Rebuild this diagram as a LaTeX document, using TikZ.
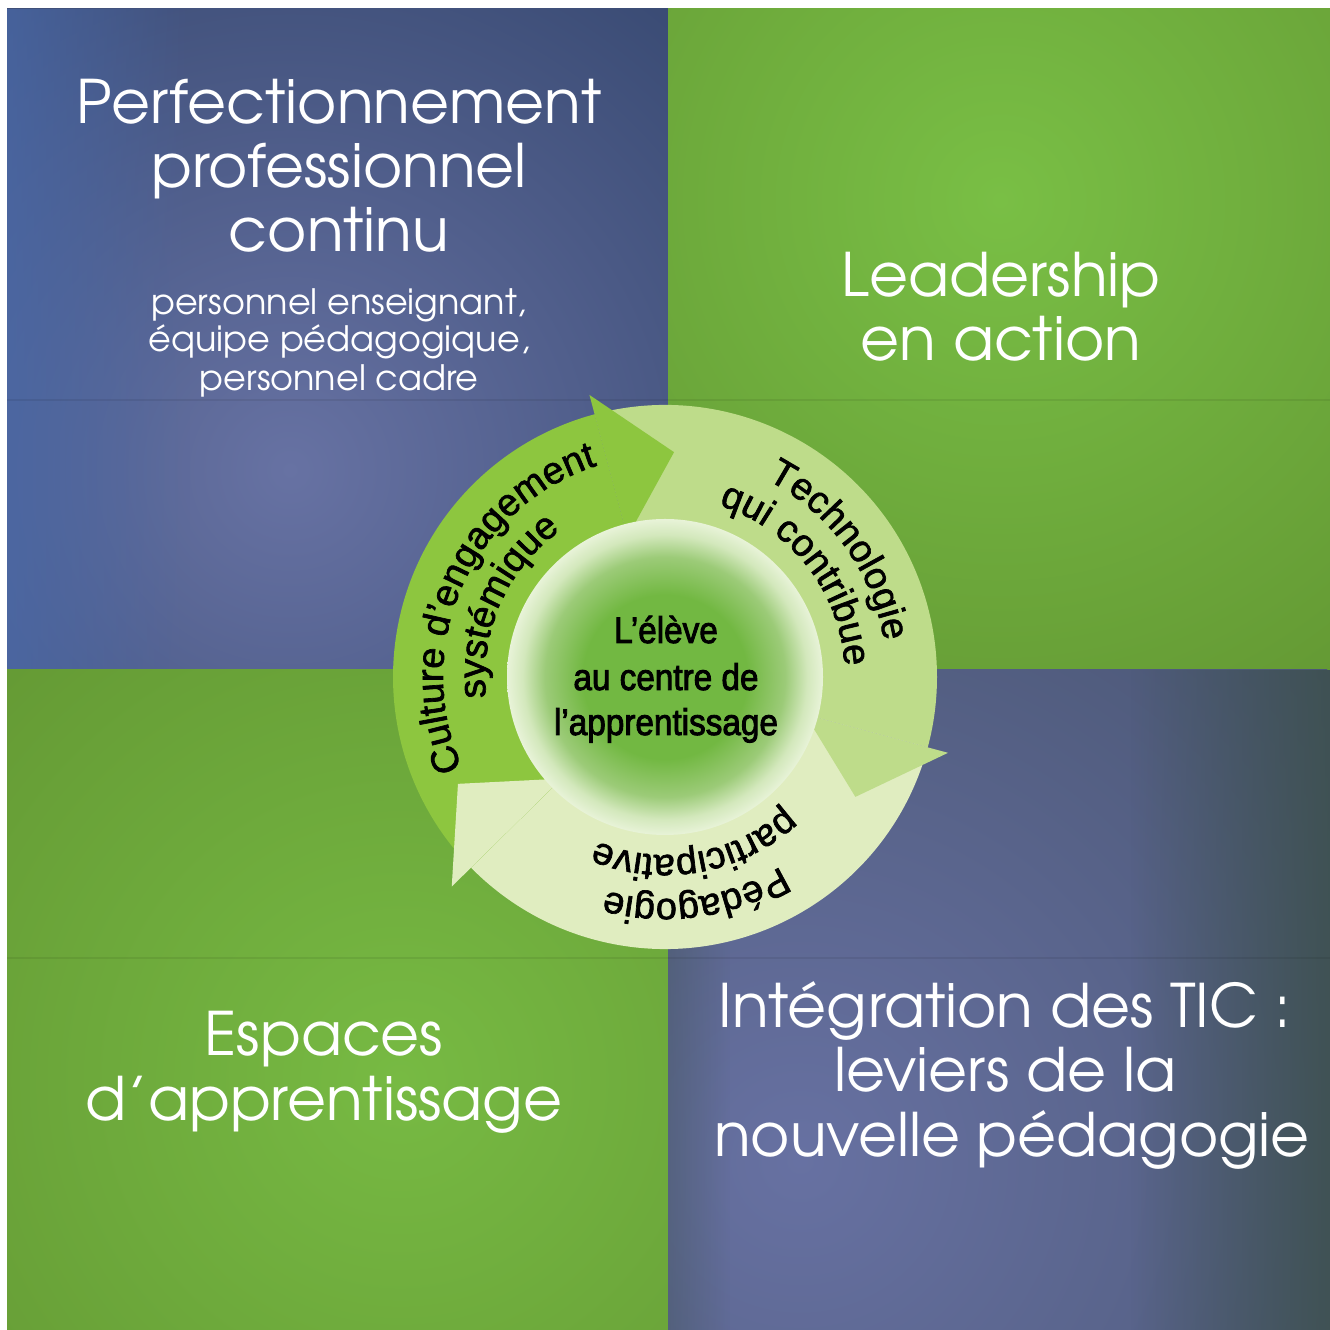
\documentclass[tikz,border=0pt]{standalone}
\usepackage{fontspec}
\usetikzlibrary{decorations.text,fadings}
\newfontfamily\gothic{texgyreadventor-regular.otf}
\newfontfamily\helv{Liberation Sans}[FakeBold=1.8]
\newfontfamily\helvc{Liberation Sans}[FakeStretch=0.9,FakeBold=2.4]

\definecolor{tlIn}{HTML}{6772A3}
\definecolor{tlOut}{HTML}{34466E}
\definecolor{tlBlue}{HTML}{4A6AAA}
\definecolor{trIn}{HTML}{79BF45}
\definecolor{trOut}{HTML}{5E8E2F}
\definecolor{blIn}{HTML}{77BA43}
\definecolor{blOut}{HTML}{5F9030}
\definecolor{brIn}{HTML}{6771A2}
\definecolor{brOut}{HTML}{4B5775}
\definecolor{brTeal}{HTML}{3E5150}
\definecolor{culture}{HTML}{8DC63F}
\definecolor{techno}{HTML}{BEDC8A}
\definecolor{pedago}{HTML}{E0EDC0}
\definecolor{discG}{HTML}{72B842}
\definecolor{discM}{HTML}{9CCB78}
\definecolor{discL}{HTML}{D3E8BC}
\definecolor{discE}{HTML}{E8F3D8}

% in TikZ the 25bp circle of a radial shading is mapped onto the path's edge
\pgfdeclareradialshading{shTL}{\pgfpoint{0bp}{0bp}}{color(0bp)=(tlIn); color(25bp)=(tlOut); color(50bp)=(tlOut)}
\pgfdeclareradialshading{shTR}{\pgfpoint{0bp}{0bp}}{color(0bp)=(trIn); color(25bp)=(trOut); color(50bp)=(trOut)}
\pgfdeclareradialshading{shBL}{\pgfpoint{0bp}{0bp}}{color(0bp)=(blIn); color(25bp)=(blOut); color(50bp)=(blOut)}
\pgfdeclareradialshading{shBR}{\pgfpoint{0bp}{0bp}}{color(0bp)=(brIn); color(25bp)=(brOut); color(50bp)=(brOut)}
\pgfdeclareradialshading{shDisc}{\pgfpoint{0bp}{0bp}}{color(0bp)=(discG); color(13bp)=(discG); color(19bp)=(discM); color(22.5bp)=(discL); color(25bp)=(discE); color(50bp)=(discE)}
\tikzfading[name=fadeR, left color=transparent!0, right color=transparent!100]
\tikzfading[name=fadeL, left color=transparent!100, right color=transparent!0]

\tikzset{
  title/.style={text=white, font=\gothic\fontsize{60}{65}\selectfont, inner sep=0pt, anchor=base},
  subtitle/.style={text=white, font=\gothic\fontsize{35}{38}\selectfont, inner sep=0pt, anchor=base},
  ctext/.style={text=black, font=\helvc\fontsize{37}{46}\selectfont, inner sep=0pt, anchor=base},
  arctext/.style={decorate, decoration={text along path, text align=center, text={|\helv\fontsize{38}{38}\selectfont|#1}}},
  seam/.style={black, opacity=0.07, line width=1.5pt},
}

\begin{document}
\begin{tikzpicture}[x=1pt,y=1pt]
\useasboundingbox (0,0) rectangle (1330,1330);
\fill[white] (0,0) rectangle (1330,1330);

% quadrants
\begin{scope}
  \clip (7,660) rectangle (668,1321);
  \fill[tlOut] (7,660) rectangle (668,1321);
  \shade[shading=shTL] (290,860) circle (680);
  \fill[tlBlue, path fading=fadeR, opacity=0.7] (7,660) rectangle (190,1321);
\end{scope}
\begin{scope}
  \clip (668,660) rectangle (1330,1321);
  \fill[trOut] (668,660) rectangle (1330,1321);
  \shade[shading=shTR] (1000,1130) circle (760);
\end{scope}
\begin{scope}
  \clip (7,0) rectangle (668,660);
  \fill[blOut] (7,0) rectangle (668,660);
  \shade[shading=shBL] (400,250) circle (760);
\end{scope}
\begin{scope}
  \clip (668,0) rectangle (1330,660);
  \fill[brOut] (668,0) rectangle (1330,660);
  \shade[shading=shBR] (800,170) circle (720);
  \fill[brTeal, path fading=fadeL, opacity=0.9] (1130,0) rectangle (1330,660);
  \fill[brTeal, path fading=fadeR, opacity=0.35] (668,0) rectangle (730,660);
\end{scope}
\draw[seam] (7,930) -- (1330,930);
\draw[seam] (7,372) -- (1330,372);

% cycle
\begin{scope}[shift={(665,653)}]
  % bodies
  \fill[techno] (105:272) arc[start angle=105, end angle=-15, radius=272] -- (-15:145) arc[start angle=-15, end angle=105, radius=145] -- cycle;
  \fill[pedago] (-15:272) arc[start angle=-15, end angle=-135.5, radius=272] -- (-135.5:145) arc[start angle=-135.5, end angle=-15, radius=145] -- cycle;
  \fill[culture] (224.5:272) arc[start angle=224.5, end angle=105, radius=272] -- (105:145) arc[start angle=105, end angle=224.5, radius=145] -- cycle;
  % heads
  \fill[techno] (-15:145) -- (-15:293) -- (-32.2:225) -- cycle;
  \fill[pedago] (224.5:145) -- (224.5:299) -- (207.3:233) -- cycle;
  \fill[culture] (105:145) -- (105:292) -- (87.7:225) -- cycle;
  % inner disc
  \shade[shading=shDisc] (0,0) circle (158);
  % arc labels
  \path[arctext={Culture d’engagement}] (216:222) arc[start angle=216, end angle=96, radius=222];
  \path[arctext={systémique}] (216:180) arc[start angle=216, end angle=96, radius=180];
  \path[arctext={Technologie}] (96:222) arc[start angle=96, end angle=-24, radius=222];
  \path[arctext={qui contribue}] (98:180) arc[start angle=98, end angle=-22, radius=180];
  \path[arctext={Pédagogie}] (338:222) arc[start angle=338, end angle=218, radius=222];
  \path[arctext={participative}] (340:178) arc[start angle=340, end angle=220, radius=178];
\end{scope}

% centre text
\node[ctext] (c1) at (666,687) {L’élève};
\node[ctext] (c2) at (666,640) {au centre de};
\node[ctext] (c3) at (666,595) {l’apprentissage};

% quadrant titles
\node[title] (tl1) at (339,1206) {Perfectionnement};
\node[title] (tl2) at (339,1142) {professionnel};
\node[title] (tl3) at (339,1078) {continu};
\node[subtitle] (tl4) at (339,1015) {personnel enseignant,};
\node[subtitle] (tl5) at (339,978) {équipe pédagogique,};
\node[subtitle] (tl6) at (339,939) {personnel cadre};

\node[title] (tr1) at (1001,1033) {Leadership};
\node[title] (tr2) at (1001,969) {en action};

\node[title] (bl1) at (324,274) {Espaces};
\node[title] (bl2) at (324,209) {d’apprentissage};

\node[title] (br1) at (1005,302) {Intégration des TIC :};
\node[title] (br2) at (1005,238) {leviers de la};
\node[title] (br3) at (1012,173) {nouvelle pédagogie};
\end{tikzpicture}
\end{document}
